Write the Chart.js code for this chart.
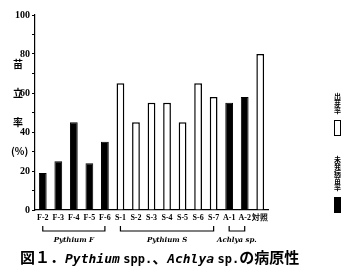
<!DOCTYPE html>
<html>
<head>
<meta charset="utf-8">
<script src="https://cdn.jsdelivr.net/npm/chart.js@4"></script>
<style>
  body { margin: 0; background: #fff; }
  #wrap { position: relative; width: 353px; height: 273px; }
  .yt { position: absolute; left: 13px; font: bold 10px "Noto Sans CJK JP"; color: #000; line-height: 10px; }
  .leg { position: absolute; left: 333px; width: 9px; text-align: center; font: bold 7px "Noto Sans CJK JP"; line-height: 7px; color: #000; }
  .leg i { display: block; width: 7px; height: 16px; margin: 6px auto 0; border: 1.5px solid #000; box-sizing: border-box; }
  #title { position: absolute; left: 20px; top: 246px; font: bold 15px "Noto Sans CJK JP"; color: #000; white-space: nowrap; }
  #title em { font-family: "DejaVu Sans Mono"; font-style: italic; font-size: 13px; }
  #title .lt { font-family: "DejaVu Sans Mono"; font-size: 12px; }
</style>
</head>
<body>
<div id="wrap">
  <canvas id="chart" width="353" height="273"></canvas>
  <div class="yt" style="top:59px">苗</div>
  <div class="yt" style="top:88px">立</div>
  <div class="yt" style="top:117px">率</div>
  <div class="yt" style="top:146px;left:11px">(%)</div>
  <div class="leg" style="top:93px">出<br>芽<br>率<i style="background:#fff"></i></div>
  <div class="leg" style="top:156px">未<br>発<br>病<br>苗<br>率<i style="background:#000"></i></div>
  <div id="title">図１．<em>Pythium</em> <span class="lt">spp.</span>、<em>Achlya</em> <span class="lt">sp.</span>の病原性</div>
</div>
<script>
const categories = ['F-2', 'F-3', 'F-4', 'F-5', 'F-6', 'S-1', 'S-2', 'S-3', 'S-4', 'S-5', 'S-6', 'S-7', 'A-1', 'A-2', '対照'];
const blackValues = [19, 25, 45, 24, 35, null, null, null, null, null, null, null, 55, 58, null];
const whiteValues = [null, null, null, null, null, 65, 45, 55, 55, 45, 65, 58, null, null, 80];
const groups = [
  { label: 'Pythium F', from: 'F-2', to: 'F-6' },
  { label: 'Pythium S', from: 'S-1', to: 'S-7' },
  { label: 'Achlya sp.', from: 'A-1', to: 'A-2' }
];

// brackets + group names under the category labels
const groupPlugin = {
  id: 'groups',
  afterDraw(chart) {
    const ctx = chart.ctx;
    const x = chart.scales.x;
    ctx.save();
    ctx.strokeStyle = '#000';
    ctx.lineWidth = 1.2;
    ctx.fillStyle = '#000';
    ctx.font = 'italic bold 7px "DejaVu Serif"';
    ctx.textAlign = 'center';
    groups.forEach(g => {
      const x1 = x.getPixelForValue(categories.indexOf(g.from));
      const x2 = x.getPixelForValue(categories.indexOf(g.to));
      ctx.beginPath();
      ctx.moveTo(x1, 226);
      ctx.lineTo(x1, 231);
      ctx.lineTo(x2, 231);
      ctx.lineTo(x2, 226);
      ctx.stroke();
      ctx.fillText(g.label, (x1 + x2) / 2, 242);
    });
    ctx.restore();
  }
};

new Chart(document.getElementById('chart'), {
  type: 'bar',
  data: {
    labels: categories,
    datasets: [
      { label: '未発病苗率', data: blackValues, backgroundColor: '#000', borderColor: '#000', borderWidth: 1 },
      { label: '出芽率', data: whiteValues, backgroundColor: '#fff', borderColor: '#000', borderWidth: 1.5 }
    ]
  },
  options: {
    responsive: false,
    animation: false,
    layout: { padding: { left: 0, top: 15, right: 85, bottom: 0 } },
    datasets: { bar: { grouped: false, categoryPercentage: 1, barPercentage: 0.5 } },
    plugins: { legend: { display: false }, tooltip: { enabled: false } },
    scales: {
      x: {
        grid: { display: false, tickLength: 0 },
        border: { color: '#000', width: 1.2 },
        ticks: { color: '#000', font: { family: 'Liberation Sans Narrow', size: 8, weight: 'bold' }, maxRotation: 0, autoSkip: false, padding: 3 },
        afterFit(scale) { scale.height = 63; }
      },
      y: {
        min: 0, max: 100,
        grid: { drawOnChartArea: false, color: '#000', tickLength: 3 },
        border: { color: '#000', width: 1.2 },
        ticks: {
          stepSize: 10, color: '#000', padding: 2,
          font: { family: 'Liberation Serif', size: 10, weight: 'bold' },
          callback: v => (v % 20 === 0 ? v : '')
        },
        afterFit(scale) { scale.width = 35; }
      }
    }
  },
  plugins: [groupPlugin]
});
</script>
</body>
</html>
